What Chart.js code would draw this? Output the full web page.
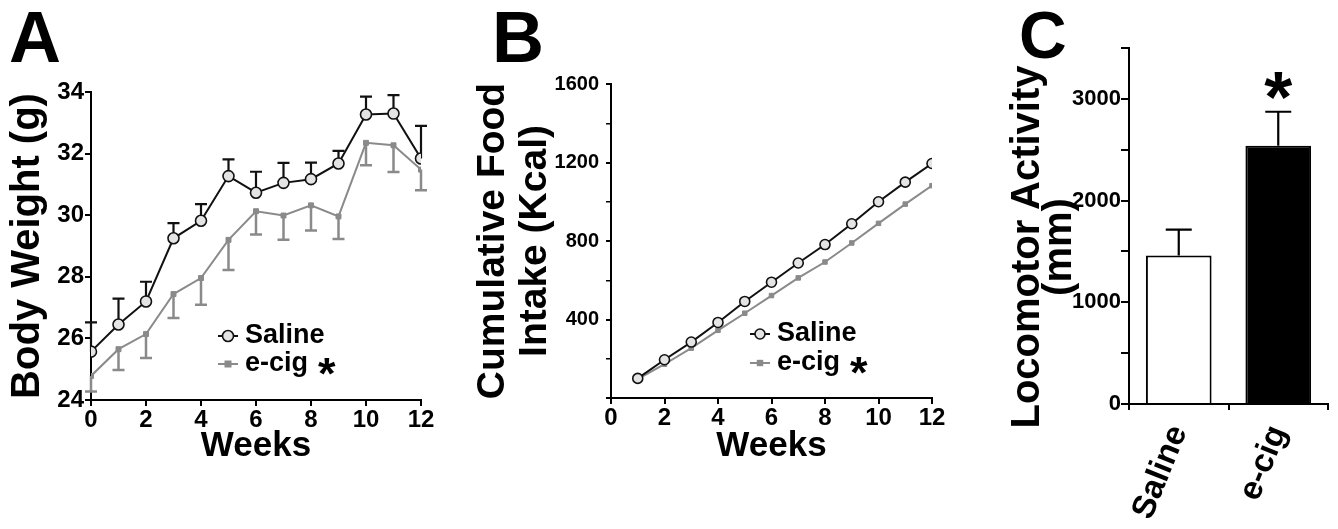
<!DOCTYPE html>
<html>
<head>
<meta charset="utf-8">
<script src="https://cdn.jsdelivr.net/npm/chart.js@4.4.1/dist/chart.umd.min.js"></script>
<style>
  html, body { margin:0; padding:0; background:#fff; }
  body { width:1338px; height:529px; position:relative; overflow:hidden; font-family:'Liberation Sans', Arial, sans-serif; }
  canvas { position:absolute; top:0; }
  .letter { position:absolute; font-weight:bold; line-height:1; color:#000; }
  #ytitleC { position:absolute; width:400px; height:64px; line-height:32px; font-size:40px; font-weight:bold;
             text-align:center; transform:rotate(-90deg); color:#000; white-space:nowrap; }
</style>
</head>
<body>
<div class="letter" style="left:9px; top:1px; font-size:72px;">A</div>
<div class="letter" style="left:492px; top:1px; font-size:72px;">B</div>
<div class="letter" style="left:1019px; top:2px; font-size:66px;">C</div>
<canvas id="cA" width="440" height="529" style="left:0px"></canvas>
<canvas id="cB" width="520" height="529" style="left:440px"></canvas>
<canvas id="cC" width="378" height="529" style="left:960px"></canvas>
<div id="ytitleC" style="left:841px; top:215px;"></div>
<script>
// ---------- DATA ----------
// Panel A: body weight (g)
const weeksA = [0,1,2,3,4,5,6,7,8,9,10,11,12];
const salineWeight = [25.57,26.45,27.2,29.25,29.82,31.27,30.73,31.05,31.17,31.68,33.27,33.3,31.84];
const salineWeightSem = [0.95,0.84,0.64,0.49,0.54,0.54,0.68,0.65,0.54,0.41,0.58,0.6,1.06];
const ecigWeight = [24.78,25.65,26.14,27.44,27.96,29.2,30.13,29.99,30.32,29.96,32.35,32.27,31.48];
const ecigWeightSem = [0.5,0.68,0.78,0.78,0.87,0.98,0.76,0.79,0.82,0.73,0.73,0.87,0.67];

// Panel B: cumulative food intake (Kcal)
const weeksB = [1,2,3,4,5,6,7,8,9,10,11,12];
const salineFood = [100,195,285,385,492,590,688,782,888,1000,1100,1195];
const ecigFood = [96,172,254,345,432,522,612,693,790,890,988,1082];

// Panel C: locomotor activity (mm)
const groupsC = ['Saline','e-cig'];
const locomotor = [1460,2540];
const locomotorSem = [255,333];

// Text
const seriesNames = ['Saline','e-cig'];
const titleA_y = 'Body Weight (g)';
const titleB_y = ['Cumulative Food','Intake (Kcal)'];
const titleC_y = ['Locomotor Activity','(mm)'];
const titleX = 'Weeks';
const sigMark = '*';

// ---------- STYLE ----------
const FONT = "'Liberation Sans', Arial, sans-serif";
Chart.defaults.font.family = FONT;
Chart.defaults.font.weight = 'bold';
Chart.defaults.color = '#000';
const BLACK = '#111';
const GREY = '#8a8a8a';

document.getElementById('ytitleC').innerHTML = titleC_y.join('<br>');

// error bars plugin
const errorBars = {
  id: 'errorBars',
  beforeDatasetsDraw(chart) {
    const ctx = chart.ctx, ys = chart.scales.y;
    chart.data.datasets.forEach((ds, di) => {
      if (!ds.err) return;
      const meta = chart.getDatasetMeta(di);
      ctx.save();
      ctx.strokeStyle = ds.errColor; ctx.lineWidth = ds.errWidth || 2;
      meta.data.forEach((el, i) => {
        const d = ds.data[i]; const v = (typeof d === 'object') ? d.y : d;
        const e = ds.err[i];
        const end = ds.errDir === 'down' ? v - e : v + e;
        const x = el.x, y0 = ys.getPixelForValue(v), y1 = ys.getPixelForValue(end);
        const c = ds.errCap;
        ctx.beginPath();
        ctx.moveTo(x, y0); ctx.lineTo(x, y1);
        ctx.moveTo(x - c, y1); ctx.lineTo(x + c, y1);
        ctx.stroke();
      });
      ctx.restore();
    });
  }
};

// in-plot legend plugin
const inLegend = {
  id: 'inLegend',
  afterDraw(chart, args, opts) {
    if (!opts || !opts.show) return;
    const ctx = chart.ctx, ca = chart.chartArea;
    ctx.save();
    chart.data.datasets.forEach((ds, i) => {
      const y = ca.top + opts.rows[i];
      const x0 = ca.left + opts.lineX0, x1 = ca.left + opts.lineX1;
      ctx.strokeStyle = ds.borderColor; ctx.lineWidth = 2;
      ctx.beginPath(); ctx.moveTo(x0, y); ctx.lineTo(x1, y); ctx.stroke();
      const mx = (x0 + x1) / 2;
      ctx.fillStyle = ds.pointBackgroundColor; ctx.strokeStyle = ds.pointBorderColor; ctx.lineWidth = ds.pointBorderWidth;
      if (ds.pointStyle === 'circle') {
        ctx.beginPath(); ctx.arc(mx, y, ds.pointRadius, 0, Math.PI * 2); ctx.fill(); ctx.stroke();
      } else {
        const r = ds.pointRadius; ctx.fillRect(mx - r, y - r, 2 * r, 2 * r);
      }
      ctx.fillStyle = '#000';
      ctx.font = 'bold ' + opts.size + 'px ' + FONT;
      ctx.textAlign = 'left'; ctx.textBaseline = 'middle';
      const tx = ca.left + opts.textX;
      ctx.fillText(ds.label, tx, y);
      if (ds.sigLegend) {
        const w = ctx.measureText(ds.label).width;
        ctx.font = 'bold 45px ' + FONT;
        ctx.textBaseline = 'alphabetic';
        ctx.fillText(sigMark, tx + w + 10, y + 25);
      }
    });
    ctx.restore();
  }
};
Chart.register(errorBars, inLegend);

function axisCommon(extra) {
  return Object.assign({
    grid: { drawOnChartArea: false, drawTicks: true, tickLength: 6, color: '#000', lineWidth: 2 },
    border: { display: true, color: '#000', width: 2 }
  }, extra);
}

// ---------- PANEL A ----------
new Chart(document.getElementById('cA'), {
  type: 'line',
  data: { datasets: [
    { label: seriesNames[0], data: weeksA.map((w, i) => ({ x: w, y: salineWeight[i] })),
      borderColor: BLACK, borderWidth: 2, pointStyle: 'circle', pointRadius: 5.5,
      pointBackgroundColor: '#e4e4e4', pointBorderColor: BLACK, pointBorderWidth: 1.6,
      err: salineWeightSem, errDir: 'up', errColor: BLACK, errCap: 6, errWidth: 2.2 },
    { label: seriesNames[1], data: weeksA.map((w, i) => ({ x: w, y: ecigWeight[i] })),
      borderColor: GREY, borderWidth: 2, pointStyle: 'rect', pointRadius: 3.5,
      pointBackgroundColor: GREY, pointBorderColor: GREY, pointBorderWidth: 1,
      err: ecigWeightSem, errDir: 'down', errColor: GREY, errCap: 6, errWidth: 2.5, sigLegend: true }
  ]},
  options: {
    responsive: false, animation: false, events: [],
    layout: { padding: { left: 3.5, top: 92, right: 19, bottom: 62 } },
    plugins: { legend: { display: false }, tooltip: { enabled: false },
      inLegend: { show: true, lineX0: 127, lineX1: 147, textX: 154, rows: [244, 272], size: 27 } },
    scales: {
      x: axisCommon({ type: 'linear', min: 0, max: 12,
        ticks: { stepSize: 2, font: { size: 24, weight: 'bold' }, color: '#000', padding: 0 },
        title: { display: true, text: titleX, font: { size: 35, weight: 'bold' }, color: '#000', padding: 0 },
        afterFit(s) { s.height = 67; } }),
      y: axisCommon({ min: 24, max: 34,
        ticks: { stepSize: 2, font: { size: 24, weight: 'bold' }, color: '#000', padding: 1 },
        title: { display: true, text: titleA_y, font: { size: 40, weight: 'bold' }, color: '#000', padding: 0 },
        afterFit(s) { s.width = 87.5; } })
    }
  }
});

// ---------- PANEL B ----------
new Chart(document.getElementById('cB'), {
  type: 'line',
  data: { datasets: [
    { label: seriesNames[0], data: weeksB.map((w, i) => ({ x: w, y: salineFood[i] })),
      borderColor: BLACK, borderWidth: 2, pointStyle: 'circle', pointRadius: 5,
      pointBackgroundColor: '#e4e4e4', pointBorderColor: BLACK, pointBorderWidth: 1.6 },
    { label: seriesNames[1], data: weeksB.map((w, i) => ({ x: w, y: ecigFood[i] })),
      borderColor: GREY, borderWidth: 2, pointStyle: 'rect', pointRadius: 3.2,
      pointBackgroundColor: GREY, pointBorderColor: GREY, pointBorderWidth: 1, sigLegend: true }
  ]},
  options: {
    responsive: false, animation: false, events: [],
    layout: { padding: { left: 32, top: 84, right: 28, bottom: 62 } },
    plugins: { legend: { display: false }, tooltip: { enabled: false },
      inLegend: { show: true, lineX0: 139, lineX1: 159, textX: 166, rows: [250, 279], size: 27 } },
    scales: {
      x: axisCommon({ type: 'linear', min: 0, max: 12,
        ticks: { stepSize: 2, font: { size: 24, weight: 'bold' }, color: '#000', padding: 0 },
        title: { display: true, text: titleX, font: { size: 35, weight: 'bold' }, color: '#000', padding: 0 },
        afterFit(s) { s.height = 69; } }),
      y: axisCommon({ min: 0, max: 1600,
        grid: { drawOnChartArea: false, drawTicks: true, tickLength: 5, color: '#000',
                lineWidth: (c) => (c.tick && c.tick.value % 400 === 0) ? 2 : 1.5 },
        ticks: { stepSize: 200, font: { size: 20, weight: 'bold' }, color: '#000', padding: 7,
                 callback: (v) => (v % 400 === 0 && v > 0) ? String(v) : '' },
        title: { display: true, text: titleB_y, font: { size: 39, weight: 'bold', lineHeight: 1.08 }, color: '#000', padding: 0 },
        afterFit(s) { s.width = 139; } })
    }
  }
});

// ---------- PANEL C ----------
new Chart(document.getElementById('cC'), {
  type: 'bar',
  data: { labels: groupsC, datasets: [
    { label: 'Locomotor', data: locomotor, backgroundColor: ['#ffffff', '#000000'], borderColor: '#000',
      borderWidth: 2, borderSkipped: 'bottom', barPercentage: 0.66, categoryPercentage: 1,
      err: locomotorSem, errDir: 'up', errColor: '#000', errCap: 13, errWidth: 2.2 }
  ]},
  options: {
    responsive: false, animation: false, events: [],
    layout: { padding: { left: 100, top: 48, right: 10, bottom: 0 } },
    plugins: { legend: { display: false }, tooltip: { enabled: false } },
    scales: {
      x: axisCommon({
        ticks: { font: { size: 33, weight: 'bold' }, color: '#000', padding: 10, minRotation: 68, maxRotation: 68 },
        afterFit(s) { s.height = 125; } }),
      y: axisCommon({ min: 0, max: 3500,
        grid: { drawOnChartArea: false, drawTicks: true, tickLength: 8, color: '#000', lineWidth: 2 },
        ticks: { stepSize: 500, font: { size: 22, weight: 'bold' }, color: '#000', padding: 0,
                 callback: (v) => (v % 1000 === 0) ? String(v) : '' },
        afterFit(s) { s.width = 69; } })
    }
  },
  plugins: [{
    id: 'sigStar',
    afterDatasetsDraw(chart) {
      const ds = chart.data.datasets[0];
      const meta = chart.getDatasetMeta(0);
      const ys = chart.scales.y, ctx = chart.ctx;
      const i = 1;
      const y1 = ys.getPixelForValue(ds.data[i] + ds.err[i]);
      ctx.save();
      ctx.fillStyle = '#000'; ctx.font = 'bold 72px ' + FONT;
      ctx.textAlign = 'center'; ctx.textBaseline = 'alphabetic';
      ctx.fillText(sigMark, meta.data[i].x, y1 + 10);
      ctx.restore();
    }
  }]
});
</script>
</body>
</html>
